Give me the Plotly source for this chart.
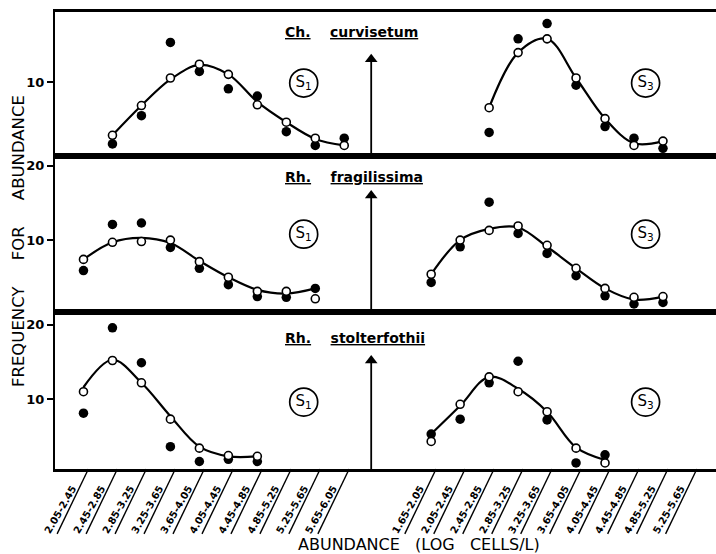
import plotly.graph_objects as go

# ---------------- data ----------------
left_cats = ["2.05-2.45", "2.45-2.85", "2.85-3.25", "3.25-3.65", "3.65-4.05",
             "4.05-4.45", "4.45-4.85", "4.85-5.25", "5.25-5.65", "5.65-6.05"]
right_cats = ["1.65-2.05", "2.05-2.45", "2.45-2.85", "2.85-3.25", "3.25-3.65",
              "3.65-4.05", "4.05-4.45", "4.45-4.85", "4.85-5.25", "5.25-5.65"]

# Ch. curvisetum
curv_s1_cats = left_cats[1:10]
curv_s1_open = [2.7, 6.8, 10.6, 12.5, 11.1, 6.9, 4.5, 2.3, 1.3]
curv_s1_filled = [1.5, 5.4, 15.5, 11.5, 9.1, 8.1, 3.2, 1.3, 2.3]
curv_s1_curve = [2.7, 6.8, 10.4, 12.4, 11.1, 7.3, 4.5, 2.2, 1.3]
curv_s3_cats = right_cats[2:9]
curv_s3_open = [6.5, 14.1, 16.0, 10.6, 5.0, 1.3, 1.9]
curv_s3_filled = [3.1, 16.0, 18.1, 9.6, 3.9, 2.3, 0.9]
curv_s3_curve = [6.5, 14.1, 16.0, 10.6, 5.0, 1.6, 1.9]

# Rh. fragilissima
frag_s1_cats = left_cats[0:9]
frag_s1_open = [7.4, 9.7, 9.8, 10.0, 7.1, 5.0, 3.1, 3.1, 2.1]
frag_s1_filled = [5.9, 12.1, 12.3, 9.0, 6.2, 4.0, 2.4, 2.3, 3.5]
frag_s1_curve = [7.4, 9.7, 10.3, 9.6, 7.2, 5.0, 3.3, 2.8, 3.5]
frag_s3_cats = right_cats[0:9]
frag_s3_open = [5.4, 10.0, 11.3, 11.9, 9.3, 6.2, 3.5, 2.3, 2.4]
frag_s3_filled = [4.3, 9.1, 15.1, 10.9, 8.2, 5.2, 2.5, 1.4, 1.6]
frag_s3_curve = [5.4, 10.0, 11.5, 11.7, 9.1, 6.2, 3.5, 2.0, 2.4]

# Rh. stolterfothii
stol_s1_cats = left_cats[0:7]
stol_s1_open = [11.0, 15.2, 12.2, 7.3, 3.4, 2.4, 2.3]
stol_s1_filled = [8.1, 19.6, 14.9, 3.6, 1.6, 1.9, 1.6]
stol_s1_curve = [11.6, 15.3, 12.2, 7.7, 3.6, 2.3, 2.3]
stol_s3_cats = right_cats[0:7]
stol_s3_open = [4.3, 9.3, 13.0, 11.0, 8.3, 3.4, 1.4]
stol_s3_filled = [5.3, 7.3, 12.2, 15.1, 7.2, 1.4, 2.5]
stol_s3_curve = [5.3, 9.1, 13.0, 11.4, 8.3, 3.5, 1.8]

genus_names = ["Ch.", "Rh.", "Rh."]
species_names = ["curvisetum", "fragilissima", "stolterfothii"]
station_labels = ["S<sub>1</sub>", "S<sub>3</sub>"]
y_tickvals = [[10], [10, 20], [10, 20]]

# ---------------- layout helpers ----------------
RIGHT_OFFSET = 12  # right group starts 12 category widths after the left group
FONT = "DejaVu Sans"
NB = "\u00a0"


def xpos(cats, group):
    if group == "L":
        return [left_cats.index(c) for c in cats]
    return [RIGHT_OFFSET + right_cats.index(c) for c in cats]


panels = [
    # (xaxis, yaxis, domain, yrange, series list)
    ("x3", "y3", [0.6855, 1.0], [-0.12, 19.7],
     [("L", curv_s1_cats, curv_s1_open, curv_s1_filled, curv_s1_curve),
      ("R", curv_s3_cats, curv_s3_open, curv_s3_filled, curv_s3_curve)]),
    ("x2", "y2", [0.3435, 0.6855], [0.32, 21.35],
     [("L", frag_s1_cats, frag_s1_open, frag_s1_filled, frag_s1_curve),
      ("R", frag_s3_cats, frag_s3_open, frag_s3_filled, frag_s3_curve)]),
    ("x", "y", [0.0, 0.3435], [0.59, 21.73],
     [("L", stol_s1_cats, stol_s1_open, stol_s1_filled, stol_s1_curve),
      ("R", stol_s3_cats, stol_s3_open, stol_s3_filled, stol_s3_curve)]),
]

fig = go.Figure()

XRANGE = [-0.983, 21.83]
ARROW_X = 9.93
S_LABEL_X = {"L": 7.6, "R": 19.4}
S_LABEL_Y = [9.9, 10.8, 9.6]
TITLE_X = 6.9
TITLE_Y = [16.9, 18.5, 18.2]
ARROW_HEAD = [13.2, 16.0, 15.2]

annotations = []
for p, (xa, ya, dom, yr, series) in enumerate(panels):
    # vertical arrow (shaft + solid triangular head)
    fig.add_trace(go.Scatter(
        x=[ARROW_X, ARROW_X], y=[yr[0], ARROW_HEAD[p]], mode="lines",
        xaxis=xa, yaxis=ya, line=dict(color="black", width=1.8),
        hoverinfo="skip", showlegend=False))
    fig.add_trace(go.Scatter(
        x=[ARROW_X], y=[ARROW_HEAD[p]], mode="markers",
        xaxis=xa, yaxis=ya,
        marker=dict(symbol="triangle-up", size=11, color="black",
                    line=dict(width=0)),
        hoverinfo="skip", showlegend=False))
    for group, cats, op, fi, cu in series:
        xs = xpos(cats, group)
        fig.add_trace(go.Scatter(
            x=xs, y=cu, mode="lines", xaxis=xa, yaxis=ya,
            line=dict(color="black", width=2.2, shape="spline", smoothing=1.0),
            hoverinfo="skip", showlegend=False))
        fig.add_trace(go.Scatter(
            x=xs, y=fi, mode="markers", xaxis=xa, yaxis=ya,
            marker=dict(color="black", size=9.5, line=dict(width=0)),
            showlegend=False))
        fig.add_trace(go.Scatter(
            x=xs, y=op, mode="markers", xaxis=xa, yaxis=ya,
            marker=dict(color="white", size=8, line=dict(color="black", width=1.6)),
            showlegend=False))
    # circled station labels
    fig.add_trace(go.Scatter(
        x=[S_LABEL_X["L"], S_LABEL_X["R"]], y=[S_LABEL_Y[p]] * 2,
        mode="markers+text", xaxis=xa, yaxis=ya,
        text=station_labels, textposition="middle center",
        textfont=dict(family=FONT, size=15, color="black"),
        marker=dict(symbol="circle-open", size=28, color="black",
                    line=dict(width=1.7)),
        hoverinfo="skip", showlegend=False))
    # species title
    annotations.append(dict(
        x=TITLE_X, y=TITLE_Y[p], xref=xa, yref=ya, xanchor="left", yanchor="middle",
        showarrow=False,
        text="<u>%s</u>%s<u>%s</u>" % (genus_names[p], NB * 4, species_names[p]),
        font=dict(family=FONT, size=14, color="black", weight="bold")))

# axis titles
annotations.append(dict(
    x=-0.055, y=0.498, xref="paper", yref="paper", textangle=-90, showarrow=False,
    xanchor="center", yanchor="middle",
    text="FREQUENCY" + NB * 5 + "FOR" + NB * 5 + "ABUNDANCE",
    font=dict(family=FONT, size=16.5, color="black")))
annotations.append(dict(
    x=0.551, y=-0.166, xref="paper", yref="paper", showarrow=False,
    xanchor="center", yanchor="middle",
    text="ABUNDANCE" + NB * 3 + "(LOG" + NB * 3 + "CELLS/L)",
    font=dict(family=FONT, size=16, color="black")))

# tick labels
tickvals = list(range(len(left_cats))) + [RIGHT_OFFSET + i for i in range(len(right_cats))]
ticktext = left_cats + right_cats

# slanted separator strokes under the tick labels
shapes = []
for v in tickvals:
    shapes.append(dict(type="line", xref="x", yref="paper",
                       x0=v + 0.17, y0=0.0, x1=v + 0.17 - 1.08, y1=-0.142,
                       line=dict(color="black", width=1.4)))

axis_common = dict(range=XRANGE, showgrid=False, zeroline=False, showline=True,
                   linecolor="black", linewidth=2.5, mirror=True, domain=[0, 1])
layout = dict(
    width=716, height=554,
    margin=dict(l=55, r=0, t=12, b=85),
    plot_bgcolor="white", paper_bgcolor="white",
    showlegend=False,
    annotations=annotations,
    shapes=shapes,
    font=dict(family=FONT, color="black"),
)
for p, (xa, ya, dom, yr, series) in enumerate(panels):
    xkey = "xaxis" if xa == "x" else "xaxis" + xa[1:]
    ykey = "yaxis" if ya == "y" else "yaxis" + ya[1:]
    xd = dict(axis_common, anchor=ya)
    if xa == "x":
        xd.update(tickvals=tickvals, ticktext=ticktext, tickangle=-60, ticks="",
                  ticklabelshift=-11, ticklabelstandoff=7,
                  tickfont=dict(family=FONT, size=10, color="black", weight="bold"))
    else:
        xd.update(showticklabels=False, ticks="", matches="x")
    layout[xkey] = xd
    layout[ykey] = dict(domain=dom, range=yr, anchor=xa, showgrid=False, zeroline=False,
                        showline=True, linecolor="black", linewidth=2, mirror=False,
                        tickvals=y_tickvals[p], ticks="outside", ticklen=6, tickwidth=2,
                        tickcolor="black",
                        tickfont=dict(family=FONT, size=13, color="black", weight="bold"))

fig.update_layout(**layout)
fig.write_html("out.html")
